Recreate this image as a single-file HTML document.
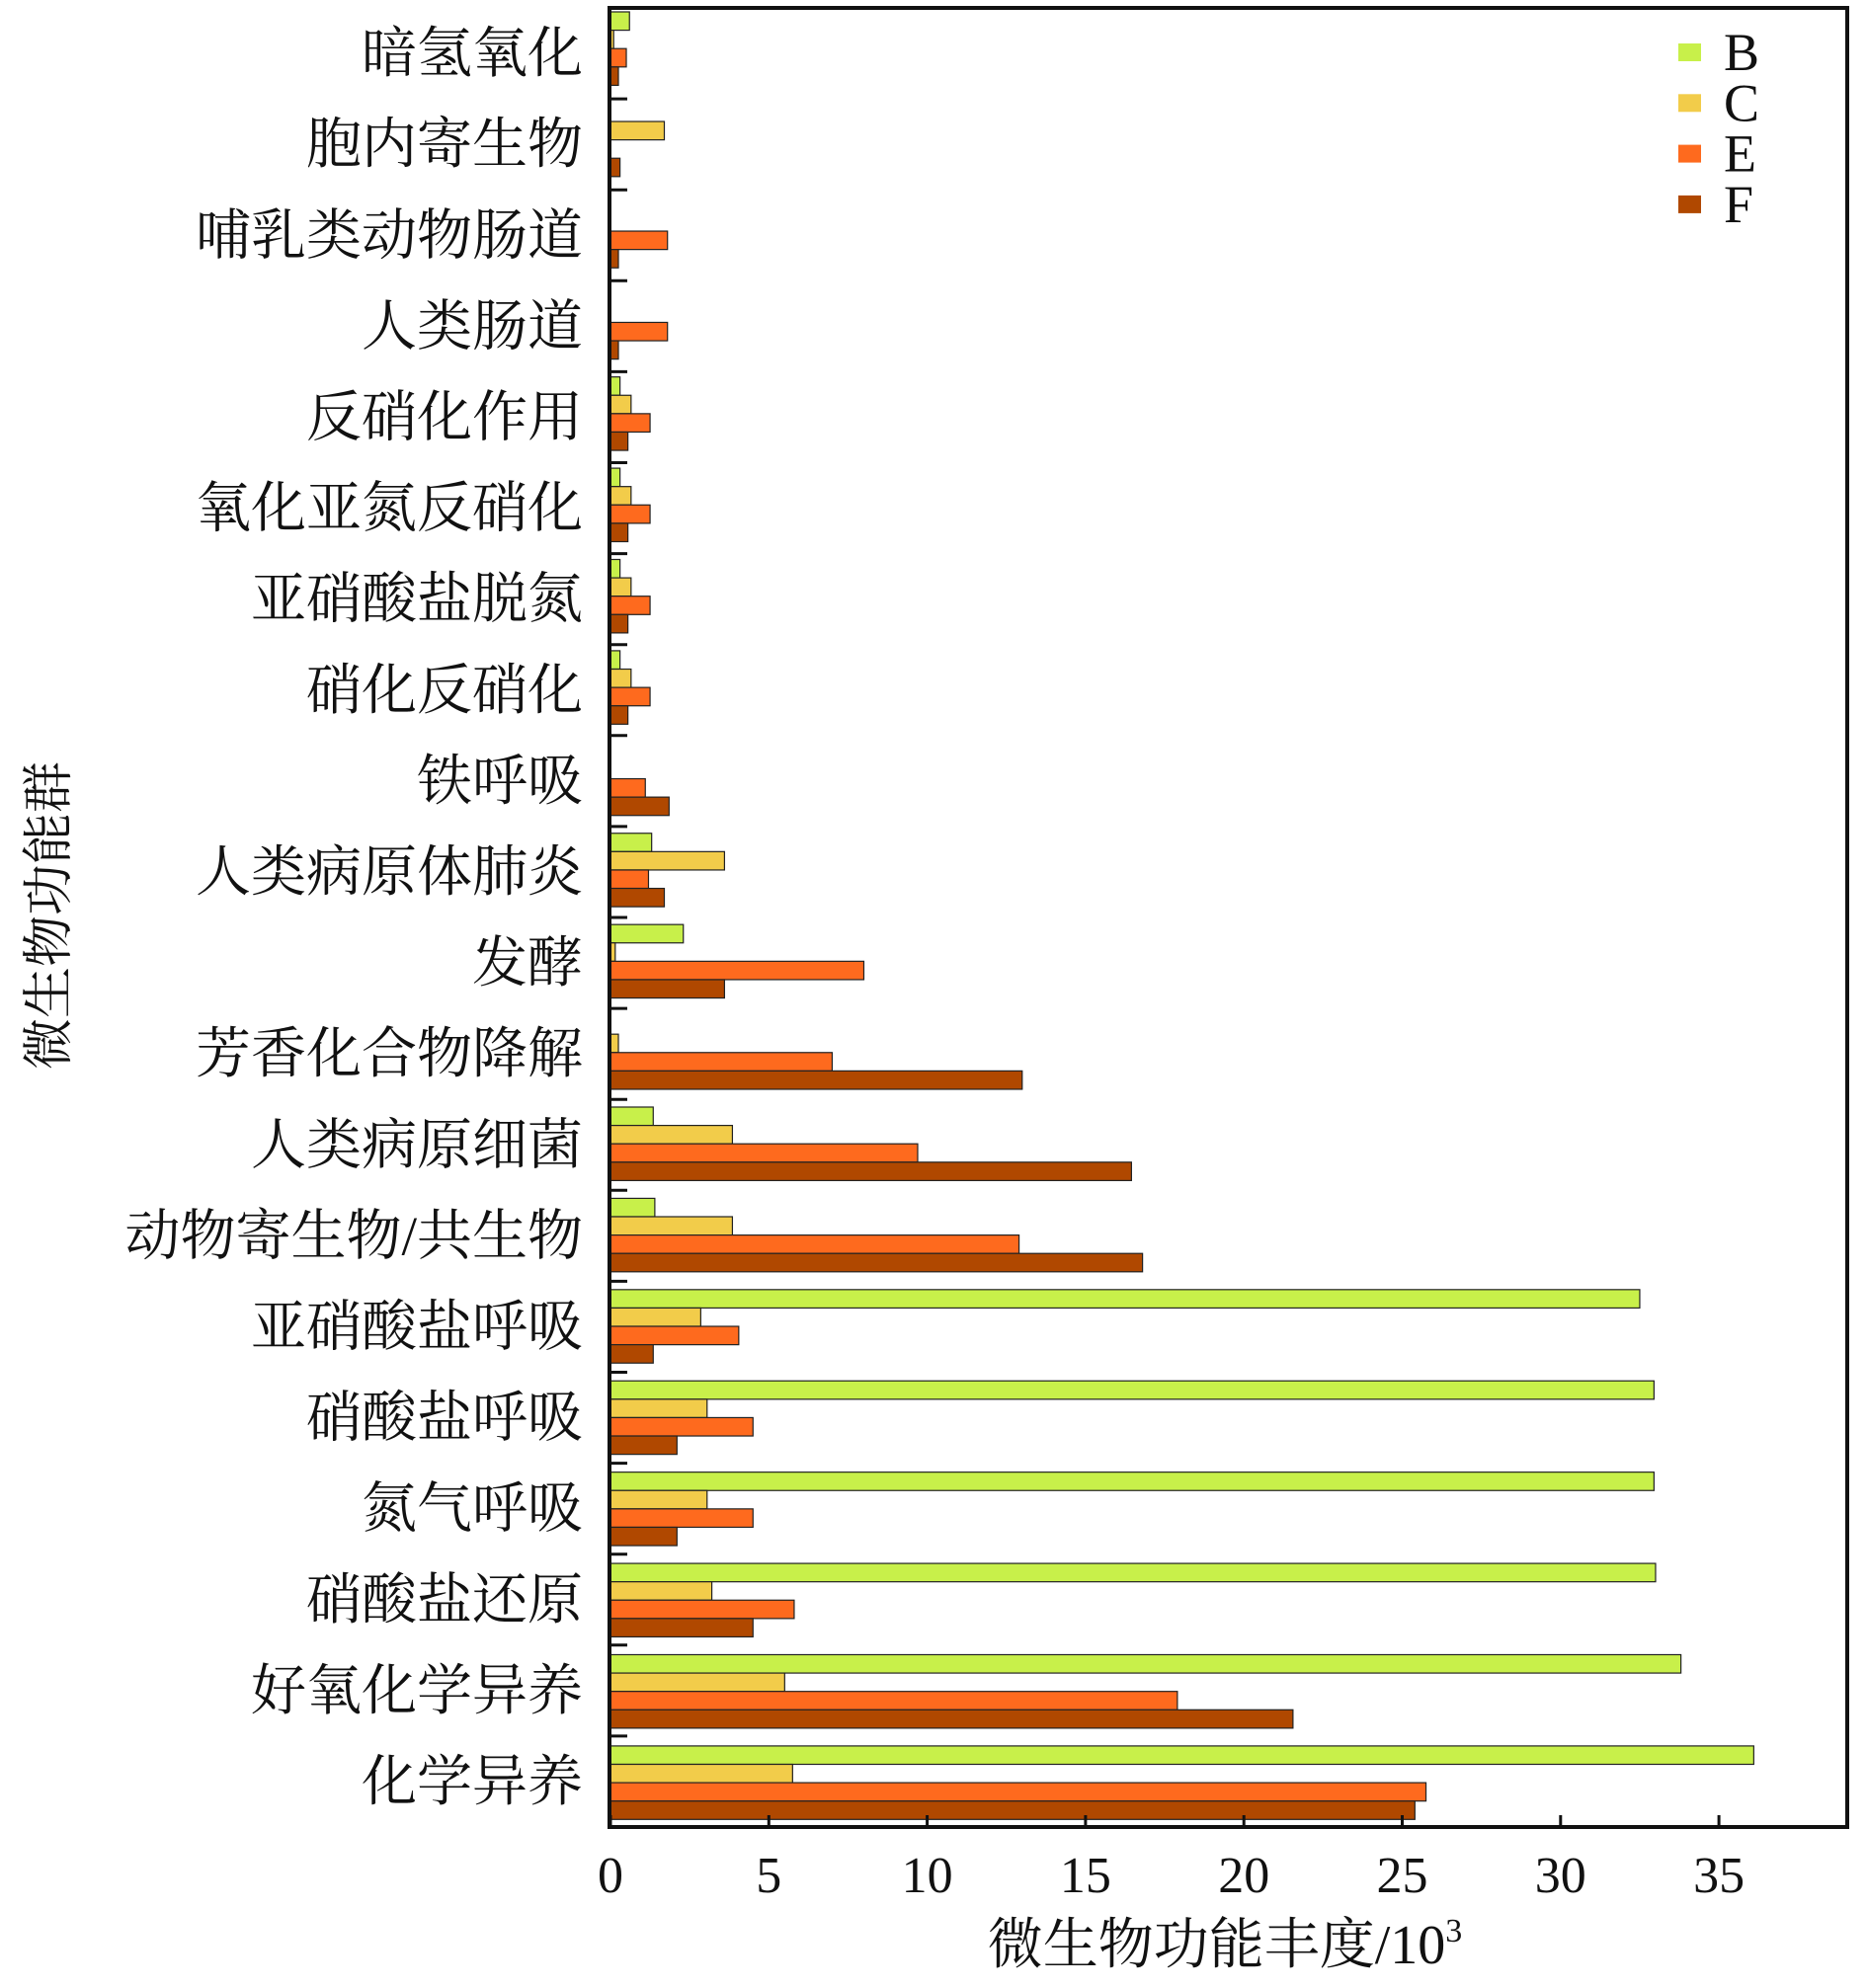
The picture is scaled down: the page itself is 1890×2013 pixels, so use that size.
<!DOCTYPE html>
<html><head><meta charset="utf-8">
<style>
html,body{margin:0;padding:0;background:#fff;}
svg{display:block;}
text{font-family:"Liberation Serif","Noto Serif CJK SC",serif;fill:#111;}
</style></head>
<body>
<svg id="chart" width="1890" height="2013" viewBox="0 0 1890 2013" xmlns="http://www.w3.org/2000/svg">
<g id="bars"></g>
<g id="axes"></g>
<g id="legend"></g>
</svg>
<script>
const categories = ["暗氢氧化","胞内寄生物","哺乳类动物肠道","人类肠道","反硝化作用","氧化亚氮反硝化","亚硝酸盐脱氮","硝化反硝化","铁呼吸","人类病原体肺炎","发酵","芳香化合物降解","人类病原细菌","动物寄生物/共生物","亚硝酸盐呼吸","硝酸盐呼吸","氮气呼吸","硝酸盐还原","好氧化学异养","化学异养"];
const seriesNames = ["B","C","E","F"];
const valuesB = [0.6,0,0,0,0.3,0.3,0.3,0.3,0,1.3,2.3,0,1.35,1.4,32.5,32.95,32.95,33.0,33.8,36.1];
const valuesC = [0.1,1.7,0,0,0.65,0.65,0.65,0.65,0,3.6,0.15,0.25,3.85,3.85,2.85,3.05,3.05,3.2,5.5,5.75];
const valuesE = [0.5,0,1.8,1.8,1.25,1.25,1.25,1.25,1.1,1.2,8.0,7.0,9.7,12.9,4.05,4.5,4.5,5.8,17.9,25.75];
const valuesF = [0.25,0.3,0.25,0.25,0.55,0.55,0.55,0.55,1.85,1.7,3.6,13.0,16.45,16.8,1.35,2.1,2.1,4.5,21.55,25.4];
const xTicks = [0,5,10,15,20,25,30,35];
const colors = ["#c8f04a","#f2cc4a","#fe6a1e","#b04800"];

const NS="http://www.w3.org/2000/svg";
const L=617, R=1870, T=8, B=1850;
const x0=618, perUnit=32.06;
function xs(v){return x0+v*perUnit;}
const band=(B-T)/categories.length;
function bandTop(i){return T+i*band;}
const barH=18.6;
function mk(tag,attrs,parent){const e=document.createElementNS(NS,tag);for(const k in attrs)e.setAttribute(k,attrs[k]);parent.appendChild(e);return e;}

const gb=document.getElementById('bars');
const allSeries=[valuesB,valuesC,valuesE,valuesF];
categories.forEach((c,i)=>{
  const y0=bandTop(i)+4+ (i/19)*6;
  allSeries.forEach((arr,s)=>{
    const v=arr[i];
    if(v<=0) return;
    const r=mk('rect',{x:xs(0),y:y0+s*barH,width:xs(v)-xs(0),height:barH,fill:colors[s],stroke:'#222','stroke-width':1.2},gb);
    
    
  });
});

const ga=document.getElementById('axes');
const frame=mk('rect',{x:L,y:T,width:R-L,height:B-T,fill:'none',stroke:'#111','stroke-width':4},ga);


for(let k=1;k<categories.length;k++){
  const y=bandTop(k);
  const t=mk('line',{x1:L,x2:L+18,y1:y,y2:y,stroke:'#111','stroke-width':3},ga);
  
  
}
categories.forEach((c,i)=>{
  const t=mk('text',{x:590,y:bandTop(i)+band/2+19,'text-anchor':'end','font-size':56},ga);
  t.textContent=c;
  
  
});
xTicks.forEach(v=>{
  const x=xs(v);
  const t=mk('line',{x1:x,x2:x,y1:B,y2:B-12,stroke:'#111','stroke-width':3},ga);
  
  
  const l=mk('text',{x:x,y:1916,'text-anchor':'middle','font-size':52},ga);
  l.textContent=String(v);
  
  
});
const xt=mk('text',{x:1240,y:1988,'text-anchor':'middle','font-size':56},ga);
xt.innerHTML='微生物功能丰度/10<tspan dy="-22" font-size="34">3</tspan>';


const yt=mk('text',{x:0,y:0,'text-anchor':'middle','font-size':52,transform:'translate(67,927) rotate(-90)'},ga);
yt.textContent='微生物功能群';



const gl=document.getElementById('legend');
seriesNames.forEach((n,s)=>{
  const y=44+s*51.3;
  const r=mk('rect',{x:1699,y:y,width:23,height:18,fill:colors[s]},gl);
  
  
  const t=mk('text',{x:1745,y:y+27,'font-size':54},gl);
  t.textContent=n;
  
  
});
</script>
</body></html>
